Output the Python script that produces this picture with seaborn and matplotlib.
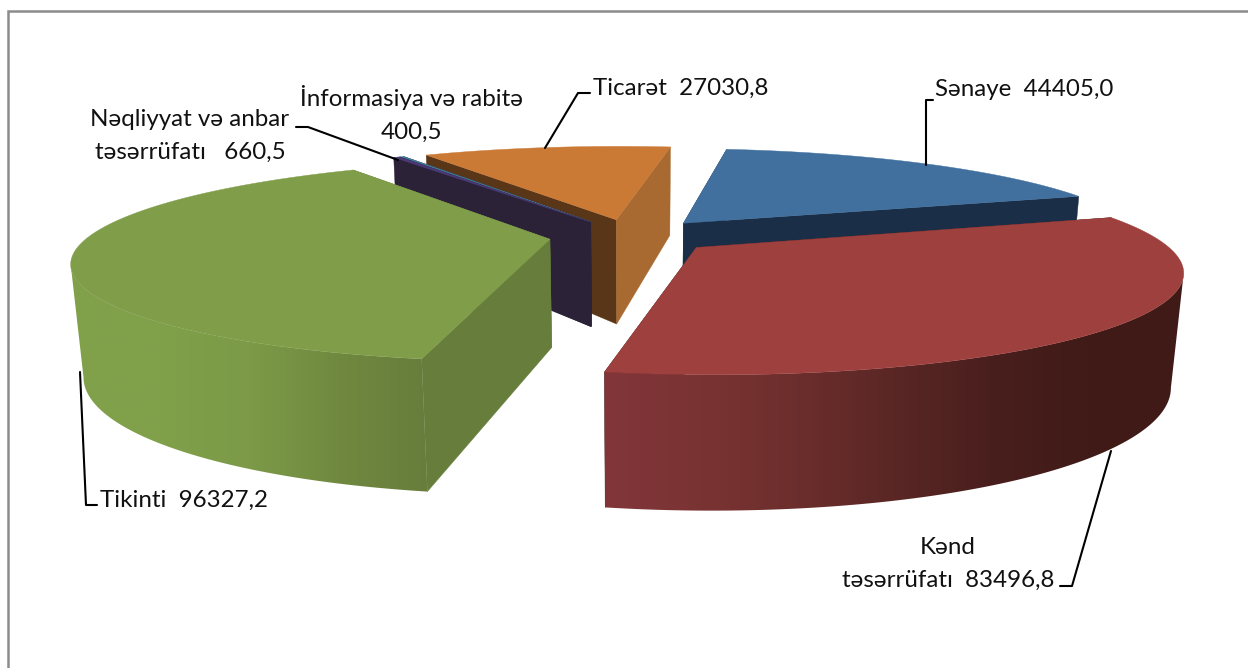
import numpy as np
import matplotlib
matplotlib.use("Agg")
import matplotlib.pyplot as plt
from matplotlib.colors import ListedColormap
from matplotlib.patches import Polygon
import seaborn as sns

# ---- data ----
names = ["Sənaye", "Kənd\ntəsərrüfatı", "Tikinti", "Nəqliyyat və anbar\ntəsərrüfatı ", "İnformasiya və rabitə", "Ticarət"]
values = [44405.0, 83496.8, 96327.2, 660.5, 400.5, 27030.8]
separators = ["  ", "  ", "  ", "  ", "\n", "  "]

# ---- styles ----
top_colors = ["#41709f", "#9e403e", "#809e4a", "#4a3a78", "#3f7f9a", "#cb7a36"]
start_wall = ["#1a2f47", "#3f1a18", "#677d3c", "#2b2238", "#2b2238", "#5a3618"]
end_wall = ["#1a2f47", "#3f1a18", "#677d3c", "#2b2238", "#2b2238", "#a86a30"]
side_ramps = {1: ["#82363a", "#7a3333", "#6c2e2c", "#5a2725", "#491f1d", "#401b18", "#3f1a17"],
              2: ["#82a04b", "#80a04a", "#7c9a48", "#70893f", "#677d3c"]}
draw_order = [0, 5, 4, 3, 2, 1]

sns.set_theme(style="white")
plt.rcParams["font.family"] = ["Lato", "Open Sans", "DejaVu Sans"]

# ---- perspective model of the pie ----
cx, cy, R, B, k, H, m = 632.0, 236.0, 461.0, 95.0, 0.21, 110.0, 0.022
explode = 0.18
theta0 = 8.0


def project(x, y, z):
    w = 1 + k * y + m * z
    return cx + R * x / w, cy - B * y / w + H * z / w


fig = plt.figure(figsize=(12.48, 6.68), dpi=100)
ax = fig.add_axes([0, 0, 1, 1])
ax.set_xlim(0, 1248)
ax.set_ylim(668, 0)
ax.axis("off")

# frame
ax.plot([8, 8, 1248], [668, 11, 11], color="#8c8c8c", lw=1.8, solid_joinstyle="miter", zorder=0)

vals = np.array(values)
edges = theta0 + 360 * np.concatenate([[0], np.cumsum(vals)]) / vals.sum()
zo = 1
for i in draw_order:
    a0, a1 = np.radians(edges[i]), np.radians(edges[i + 1])
    mid = (a0 + a1) / 2
    ox, oy = explode * np.sin(mid), explode * np.cos(mid)
    t = np.linspace(a0, a1, max(3, int(np.degrees(a1 - a0) * 3)))
    ux, uy = ox + np.sin(t), oy + np.cos(t)

    for (wx, wy, col) in [(ux[0], uy[0], start_wall[i]), (ux[-1], uy[-1], end_wall[i])]:
        q = [project(ox, oy, 0), project(wx, wy, 0), project(wx, wy, 1), project(ox, oy, 1)]
        ax.add_patch(Polygon(q, closed=True, facecolor=col, edgecolor=col, lw=0.3, zorder=zo))

    # outer rim: from the silhouette point round the front of the slice
    if i in side_ramps:
        tx, ty = project(ux, uy, 0)
        bx, by = project(ux, uy, 1)
        it, ib = np.argmax(np.abs(tx - cx)), np.argmax(np.abs(bx - cx))
        st = slice(it, None) if i == 1 else slice(0, it + 1)
        sb = slice(ib, None) if i == 1 else slice(0, ib + 1)
        poly = np.c_[np.r_[tx[st], bx[sb][::-1]], np.r_[ty[st], by[sb][::-1]]]
        clip = Polygon(poly, closed=True, transform=ax.transData, facecolor="none", edgecolor="none")
        ax.add_patch(clip)
        x0, x1, y0, y1 = poly[:, 0].min(), poly[:, 0].max(), poly[:, 1].min(), poly[:, 1].max()
        cmap = ListedColormap(sns.blend_palette(side_ramps[i], n_colors=256))
        im = ax.imshow(np.linspace(0, 1, 256)[None, :], cmap=cmap, extent=(x0, x1, y1, y0),
                       aspect="auto", interpolation="bilinear", zorder=zo + 0.1)
        im.set_clip_path(clip)
    sx, sy = project(np.r_[ox, ux], np.r_[oy, uy], 0)
    ax.fill(sx, sy, color=top_colors[i], lw=0.3, zorder=zo + 0.2)
    zo += 1
ax.set_xlim(0, 1248)
ax.set_ylim(668, 0)

# ---- labels and leader lines ----
label_pos = [(1024, 90), (948, 564), (184, 500), (190, 136), (411, 114), (681, 88)]
leaders = [([926, 926, 933], [165, 100, 100]),
           ([1111, 1072, 1060], [451, 586, 586]),
           ([80, 86, 97], [372, 505, 505]),
           ([398, 308, 296], [160, 127, 127]),
           None,
           ([545, 578, 590], [148, 93, 93])]
for i, v in enumerate(values):
    txt = f"{v:.1f}".replace(".", ",")
    label = f"{names[i]}{separators[i]}{txt}"
    ax.text(*label_pos[i], label, ha="center", va="center", ma="center", fontsize=17.4,
            color="#111111", linespacing=1.72, zorder=20)
    if leaders[i] is not None:
        ax.plot(*leaders[i], color="black", lw=1.5, zorder=20)

fig.savefig("out.png", dpi=100, facecolor="white")
